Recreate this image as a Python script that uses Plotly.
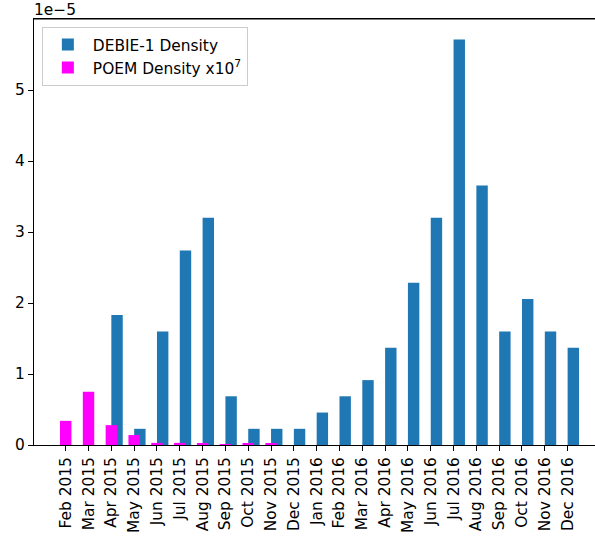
import plotly.graph_objs as go

months = ["Feb 2015", "Mar 2015", "Apr 2015", "May 2015", "Jun 2015", "Jul 2015",
          "Aug 2015", "Sep 2015", "Oct 2015", "Nov 2015", "Dec 2015", "Jan 2016",
          "Feb 2016", "Mar 2016", "Apr 2016", "May 2016", "Jun 2016", "Jul 2016",
          "Aug 2016", "Sep 2016", "Oct 2016", "Nov 2016", "Dec 2016"]

debie_density = [0, 0, 1.83e-5, 0.228e-5, 1.60e-5, 2.74e-5,
                 3.20e-5, 0.686e-5, 0.228e-5, 0.228e-5, 0.228e-5, 0.457e-5,
                 0.686e-5, 0.914e-5, 1.371e-5, 2.285e-5, 3.20e-5, 5.71e-5,
                 3.656e-5, 1.60e-5, 2.057e-5, 1.60e-5, 1.371e-5]

poem_density = [0.34e-5, 0.75e-5, 0.28e-5, 0.14e-5, 0.03e-5, 0.03e-5,
                0.015e-5, 0.005e-5, 0.015e-5, 0.015e-5, 0, 0,
                0, 0, 0, 0, 0, 0,
                0, 0, 0, 0, 0]

y_ticks = [0, 1e-5, 2e-5, 3e-5, 4e-5, 5e-5]
y_ticklabels = ["0", "1", "2", "3", "4", "5"]

idx = list(range(len(months)))
font = dict(family="DejaVu Sans", size=15.4, color="black")

fig = go.Figure()
fig.add_trace(go.Bar(x=[i + 0.25 for i in idx], y=debie_density, width=0.5,
                     marker=dict(color="#1f77b4", line=dict(width=0)),
                     name="DEBIE-1 Density"))
fig.add_trace(go.Bar(x=idx, y=poem_density, width=0.5,
                     marker=dict(color="#ff00ff", line=dict(width=0)),
                     name="POEM Density x10<sup>7</sup>"))

fig.update_layout(
    width=595, height=540,
    margin=dict(l=34, r=0, t=19, b=95, autoexpand=False),
    barmode="overlay",
    plot_bgcolor="white", paper_bgcolor="white",
    font=font,
    showlegend=True,
    legend=dict(x=0.014, y=0.981, xanchor="left", yanchor="top",
                bgcolor="rgba(255,255,255,0.8)", bordercolor="#cccccc", borderwidth=1,
                font=font, itemwidth=40, tracegroupgap=0),
    xaxis=dict(range=[-1.39, 23.2], tickvals=idx, ticktext=months, tickangle=-90,
               ticks="outside", ticklen=5, tickcolor="black", showgrid=False,
               zeroline=False, showline=True, linecolor="black", linewidth=1,
               mirror=True, automargin=False, tickfont=font),
    yaxis=dict(range=[0, 6.0e-5], tickvals=y_ticks, ticktext=y_ticklabels,
               ticks="outside", ticklen=5, tickcolor="black", showgrid=False,
               zeroline=False, showline=True, linecolor="black", linewidth=1,
               automargin=False, tickfont=font),
)

# top spine
fig.add_shape(type="line", xref="paper", yref="paper", x0=0, x1=1, y0=1, y1=1,
              line=dict(color="black", width=1))

fig.add_annotation(text="1e\u22125", xref="paper", yref="paper", x=0, y=1,
                   xanchor="left", yanchor="bottom", showarrow=False,
                   font=font, xshift=-2, yshift=-2)

# drop the default body margin so the figure fills the window exactly
fig.write_html("out.html", config={"displayModeBar": False},
               post_script="document.body.style.margin='0';")
